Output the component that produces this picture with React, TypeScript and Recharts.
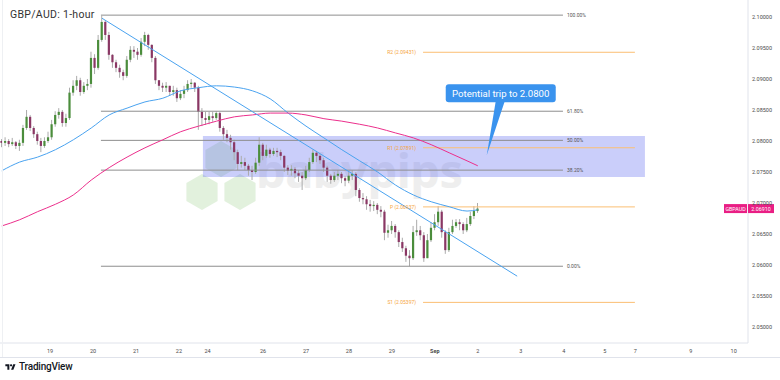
import React from "react";
import {
  ComposedChart,
  Bar,
  Line,
  XAxis,
  YAxis,
  ReferenceLine,
  ReferenceArea,
  ReferenceDot,
} from "recharts";

// 2-hour candles (price units)
const firstOpen = 2.08;
const closes = [
  2.0797, 2.08, 2.0795, 2.0798, 2.0792, 2.0797, 2.0821, 2.0839, 2.0821, 2.0811,
  2.08, 2.0792, 2.08, 2.0806, 2.0827, 2.0842, 2.0847, 2.0829, 2.0837, 2.0878,
  2.0889, 2.0898, 2.0879, 2.0889, 2.0892, 2.0934, 2.0918, 2.0963, 2.0992, 2.0971,
  2.0939, 2.0927, 2.0918, 2.0911, 2.0905, 2.0931, 2.0947, 2.0944, 2.0939, 2.096,
  2.0971, 2.0955, 2.0934, 2.0898, 2.0889, 2.0886, 2.0889, 2.0879, 2.0882, 2.0869,
  2.0876, 2.0882, 2.0892, 2.0894, 2.0886, 2.0847, 2.0837, 2.0834, 2.084, 2.0837,
  2.0845, 2.0821, 2.0811, 2.0805, 2.0798, 2.0782, 2.0763, 2.0766, 2.076, 2.0753,
  2.075, 2.0765, 2.0794, 2.0776, 2.0786, 2.0779, 2.0784, 2.0782, 2.0776, 2.0757,
  2.0752, 2.0755, 2.0748, 2.0744, 2.074, 2.0753, 2.0766, 2.0781, 2.0776, 2.0769,
  2.0757, 2.0744, 2.0737, 2.0744, 2.0747, 2.074, 2.0736, 2.0744, 2.0747, 2.0721,
  2.0708, 2.0706, 2.0698, 2.0695, 2.0697, 2.0689, 2.0686, 2.0652, 2.0656, 2.0663,
  2.0653, 2.0637, 2.0627, 2.0615, 2.0611, 2.0653, 2.0656, 2.0648, 2.0611, 2.064,
  2.066, 2.0669, 2.0686, 2.0653, 2.0624, 2.0653, 2.0663, 2.0669, 2.0666, 2.0656,
  2.0666, 2.0679, 2.0687, 2.0691,
];
const highs = [
  2.0803, 2.0806, 2.0803, 2.0805, 2.08, 2.0802, 2.0826, 2.085, 2.0842, 2.0824,
  2.0815, 2.0805, 2.0806, 2.0815, 2.0834, 2.0848, 2.0853, 2.085, 2.0844, 2.0886,
  2.0898, 2.0905, 2.0902, 2.0895, 2.09, 2.0944, 2.094, 2.0971, 2.1002, 2.0995,
  2.0976, 2.094, 2.0931, 2.0923, 2.0915, 2.0937, 2.0953, 2.0953, 2.095, 2.0966,
  2.0976, 2.0973, 2.0956, 2.0937, 2.0898, 2.0894, 2.0895, 2.0889, 2.0889, 2.0886,
  2.0882, 2.0889, 2.0898, 2.09, 2.0895, 2.0889, 2.0853, 2.0847, 2.0847, 2.0847,
  2.0848, 2.0847, 2.0824, 2.0818, 2.081, 2.0802, 2.0786, 2.0776, 2.0773, 2.0763,
  2.076, 2.0773, 2.0806, 2.0797, 2.0794, 2.0789, 2.0789, 2.0789, 2.0786, 2.0777,
  2.0761, 2.0761, 2.0758, 2.0753, 2.075, 2.076, 2.0773, 2.0786, 2.0784, 2.0779,
  2.0773, 2.076, 2.0747, 2.075, 2.0753, 2.075, 2.0744, 2.075, 2.0753, 2.075,
  2.0724, 2.0716, 2.0711, 2.0705, 2.0703, 2.07, 2.0695, 2.0689, 2.0665, 2.0671,
  2.0666, 2.0656, 2.0644, 2.0631, 2.0624, 2.0663, 2.0673, 2.0663, 2.0653, 2.065,
  2.0669, 2.0682, 2.0695, 2.0689, 2.0656, 2.066, 2.0673, 2.0674, 2.0674, 2.0669,
  2.0676, 2.0686, 2.0695, 2.07,
];
const lows = [
  2.079, 2.0792, 2.079, 2.0792, 2.0787, 2.0784, 2.0792, 2.0818, 2.0816, 2.0805,
  2.0794, 2.0782, 2.0789, 2.0797, 2.0802, 2.0823, 2.0836, 2.0823, 2.0823, 2.0834,
  2.0873, 2.0882, 2.0873, 2.0876, 2.0882, 2.0886, 2.0908, 2.0915, 2.096, 2.0963,
  2.0931, 2.0918, 2.0911, 2.0902, 2.0898, 2.0902, 2.0927, 2.0934, 2.0931, 2.0936,
  2.0953, 2.0947, 2.0927, 2.0892, 2.0882, 2.0879, 2.0879, 2.0873, 2.0873, 2.0863,
  2.0866, 2.0869, 2.0879, 2.0886, 2.0879, 2.0818, 2.0824, 2.0826, 2.0827, 2.0831,
  2.0834, 2.0815, 2.0802, 2.0798, 2.0786, 2.0769, 2.0753, 2.0757, 2.0753, 2.0744,
  2.0737, 2.0747, 2.076, 2.0769, 2.0773, 2.0773, 2.0776, 2.0774, 2.0769, 2.075,
  2.0745, 2.0744, 2.074, 2.0734, 2.0721, 2.0737, 2.075, 2.0763, 2.0766, 2.0763,
  2.075, 2.0734, 2.0731, 2.0734, 2.0737, 2.0732, 2.0727, 2.0732, 2.0737, 2.0711,
  2.0702, 2.0698, 2.0689, 2.0686, 2.0687, 2.0682, 2.0677, 2.064, 2.0644, 2.065,
  2.0644, 2.0629, 2.0621, 2.0605, 2.0598, 2.0608, 2.0647, 2.064, 2.0605, 2.0611,
  2.0637, 2.0656, 2.0663, 2.0644, 2.0618, 2.0621, 2.065, 2.066, 2.0656, 2.065,
  2.0653, 2.0663, 2.0674, 2.0684,
];

// moving averages, read at every 5th candle
const maIdx = [
  0, 5, 10, 15, 20, 25, 30, 35, 40, 45, 50, 55, 60, 65, 70, 75, 80, 85, 90, 95,
  100, 105, 110, 115, 120, 125, 130, 133,
];
const ma100 = [
  2.0752, 2.0766, 2.0774, 2.0786, 2.0802, 2.0821, 2.0842, 2.0853, 2.0863, 2.0869,
  2.0881, 2.0886, 2.0889, 2.0887, 2.0881, 2.0868, 2.0845, 2.0824, 2.0805, 2.0786,
  2.0768, 2.075, 2.0729, 2.0713, 2.0702, 2.0694, 2.0687, 2.0689,
];
const ma200 = [
  2.0663, 2.0673, 2.0686, 2.0698, 2.0713, 2.0737, 2.0757, 2.0774, 2.0789, 2.0802,
  2.0815, 2.0824, 2.0832, 2.0839, 2.0842, 2.0845, 2.0845, 2.0842, 2.0836, 2.0832,
  2.0827, 2.0821, 2.0813, 2.0805, 2.0794, 2.0781, 2.0768, 2.076,
];

// x axis (hours from the left edge)
const tickHours = [28, 52, 76, 100, 116, 147, 171, 195, 219, 243, 267, 291, 315, 338, 355, 386, 410];
const tickLabels = ["19", "20", "21", "22", "24", "26", "27", "28", "29", "Sep", "2", "3", "4", "5", "7", "9", "10"];
const priceTicks = [2.05, 2.055, 2.06, 2.065, 2.07, 2.075, 2.08, 2.085, 2.09, 2.095, 2.1];

const fibLevels = [2.1003, 2.0848, 2.0801, 2.0753, 2.0598];
const fibLabels = ["100.00%", "61.80%", "50.00%", "38.20%", "0.00%"];
const pivotLevels = [2.09431, 2.07891, 2.06937, 2.05397];
const pivotLabels = ["R2 (2.09431)", "R1 (2.07891)", "P (2.06937)", "S1 (2.05397)"];
const lastPrice = 2.0691;

const FONT = "Roboto, 'Noto Sans', sans-serif";

const data = closes.map((c, i) => ({
  hour: 2 * i + 1,
  open: i === 0 ? firstOpen : closes[i - 1],
  close: c,
  high: highs[i],
  low: lows[i],
  range: [lows[i], highs[i]],
}));

const maData = maIdx.map((i, k) => ({ hour: 2 * i + 1, ma100: ma100[k], ma200: ma200[k] }));

function Candle(props: any) {
  const { x, y, width, height, payload } = props;
  if (x == null || y == null) return null;
  const top = Math.min(y, y + height);
  const h = Math.abs(height);
  const { open, close, high, low } = payload;
  const span = high - low || 1e-9;
  const py = (v: number) => top + ((high - v) / span) * h;
  const cx = x + width / 2;
  const up = close >= open;
  const b1 = py(Math.max(open, close));
  const b2 = py(Math.min(open, close));
  return (
    <g>
      <line x1={cx} x2={cx} y1={top} y2={top + h} stroke="#ababab" strokeWidth={1} />
      <rect
        x={cx - 1.1}
        y={b1}
        width={2.2}
        height={Math.max(b2 - b1, 0.8)}
        fill={up ? "#4b8d3c" : "#8a3764"}
      />
    </g>
  );
}

function XTick(p: any) {
  const i = tickHours.indexOf(p.payload.value);
  const lbl = tickLabels[i] ?? "";
  return (
    <text x={p.x} y={p.y + 10} textAnchor="middle" fontSize={5.5} fill="#4a4a4a"
      fontFamily={FONT} fontWeight={lbl === "Sep" ? 700 : 400}>
      {lbl}
    </text>
  );
}

function YTick(p: any) {
  return (
    <text x={p.x + 4} y={p.y + 2} fontSize={5.5} fill="#4a4a4a" fontFamily={FONT}>
      {Number(p.payload.value).toFixed(5)}
    </text>
  );
}

const fibLabel = (text: string) => (p: any) => (
  <text x={p.cx + 4} y={p.cy + 2} fontSize={5} fill="#555" fontFamily={FONT}>{text}</text>
);

const pivotLabel = (text: string) => (p: any) => (
  <text x={p.cx - 7} y={p.cy + 2} fontSize={5} fill="#f5a540" textAnchor="end" fontFamily={FONT}>{text}</text>
);

function Callout(p: any) {
  const { cx, cy } = p;
  const c = "#3a93ee";
  return (
    <g>
      <path d={`M${cx},${cy} L${cx + 9},${cy - 54} L${cx + 18},${cy - 54} Z`} fill={c} />
      <rect x={cx - 41} y={cy - 71} width={110} height={18} rx={3} fill={c} />
      <text x={cx + 14} y={cy - 58.5} textAnchor="middle" fontSize={9.6} fill="#fff" fontFamily={FONT}>
        Potential trip to 2.0800
      </text>
    </g>
  );
}

function PriceTag(p: any) {
  const { cx, cy } = p;
  const c = "#e91e84";
  return (
    <g fontFamily={FONT} fontSize={5.3} fill="#fff">
      <rect x={cx - 24} y={cy - 4.5} width={23} height={9} fill={c} />
      <text x={cx - 12.5} y={cy + 2} textAnchor="middle">GBPAUD</text>
      <rect x={cx} y={cy - 4.5} width={26} height={9} fill={c} />
      <text x={cx + 13} y={cy + 2} textAnchor="middle">{lastPrice.toFixed(5)}</text>
    </g>
  );
}

function Watermark() {
  const hex = (x: number, y: number, r: number) => {
    const pts = [0, 1, 2, 3, 4, 5]
      .map((k) => {
        const a = (Math.PI / 3) * k + Math.PI / 6;
        return `${x + r * Math.cos(a)},${y + r * Math.sin(a)}`;
      })
      .join(" ");
    return <polygon points={pts} />;
  };
  return (
    <svg width={780} height={380} style={{ position: "absolute", left: 0, top: 0 }}>
      <g fill="#cfe8c8" opacity={0.6}>
        {hex(202, 192, 18)}
        {hex(240, 192, 18)}
        {hex(221, 159, 18)}
      </g>
      <text x={256} y={188} fontSize={47} fontWeight={700} fill="#eeeeee" fontFamily="'Noto Sans', sans-serif"
        letterSpacing={-0.5}>
        babypips
      </text>
    </svg>
  );
}

export default function App() {
  return (
    <div style={{ position: "fixed", left: 0, top: 0, width: 780, height: 380, background: "#fff", overflow: "hidden", fontFamily: FONT }}>
      <Watermark />
      <div style={{ position: "absolute", left: 0, top: 0 }}>
        <ComposedChart width={780} height={357} data={data} margin={{ top: 0, right: 0, bottom: 0, left: 0 }}>
          <XAxis
            dataKey="hour"
            type="number"
            domain={[0, 418]}
            ticks={tickHours}
            interval={0}
            tick={<XTick />}
            tickLine={false}
            tickSize={0}
            tickMargin={0}
            height={14}
            axisLine={{ stroke: "#e0e3eb" }}
            allowDataOverflow
          />
          <YAxis
            orientation="right"
            domain={[2.04742, 2.10274]}
            ticks={priceTicks}
            interval={0}
            tick={<YTick />}
            tickLine={false}
            tickSize={0}
            tickMargin={0}
            width={32}
            axisLine={{ stroke: "#e0e3eb" }}
            allowDataOverflow
          />
          {fibLevels.map((v, i) => (
            <ReferenceLine key={"f" + i} segment={[{ x: 56.4, y: v }, { x: 314.6, y: v }]} stroke="#8e8e8e" strokeWidth={1} />
          ))}
          {pivotLevels.map((v, i) => (
            <ReferenceLine key={"p" + i} segment={[{ x: 236.4, y: v }, { x: 354.8, y: v }]} stroke="#fbbf73" strokeWidth={1} />
          ))}
          <Bar dataKey="range" barSize={3} shape={<Candle />} isAnimationActive={false} />
          <Line data={maData} dataKey="ma100" type="monotone" stroke="#4aa3f0" strokeWidth={1} dot={false} activeDot={false} isAnimationActive={false} />
          <Line data={maData} dataKey="ma200" type="monotone" stroke="#ec2f8c" strokeWidth={1} dot={false} activeDot={false} isAnimationActive={false} />
          <ReferenceLine segment={[{ x: 57, y: 2.0998 }, { x: 289, y: 2.0582 }]} stroke="#4aa3f0" strokeWidth={1} />
          <ReferenceArea x1={113.4} x2={360.4} y1={2.0742} y2={2.0808} fill="#4e5cf0" fillOpacity={0.3} stroke="none" />
          {fibLevels.map((v, i) => (
            <ReferenceDot key={"fl" + i} x={314.6} y={v} shape={fibLabel(fibLabels[i])} ifOverflow="visible" />
          ))}
          {pivotLevels.map((v, i) => (
            <ReferenceDot key={"pl" + i} x={236.4} y={v} shape={pivotLabel(pivotLabels[i])} ifOverflow="visible" />
          ))}
          <ReferenceDot x={272} y={2.0777} shape={<Callout />} ifOverflow="visible" />
          <ReferenceDot x={418} y={lastPrice} shape={<PriceTag />} ifOverflow="visible" />
        </ComposedChart>
      </div>
      <div style={{ position: "absolute", left: 2, top: 0, width: 1, height: 357, background: "#eef0f3" }} />
      <div style={{ position: "absolute", left: 0, top: 357, width: 780, height: 1, background: "#e0e3eb" }} />
      <div style={{ position: "absolute", left: 10, top: 8, fontSize: 10.5, color: "#333", letterSpacing: 0.3 }}>
        GBP/AUD: 1-hour
      </div>
      <div style={{ position: "absolute", left: 5, top: 361, display: "flex", alignItems: "center", gap: 3 }}>
        <svg width={11} height={8} viewBox="0 0 36 28">
          <path d="M14 24H7V11H0V4h14v20zM28 24h-8l7.5-20h8L28 24z" fill="#131722" />
          <circle cx="20" cy="8" r="4" fill="#131722" />
        </svg>
        <span style={{ fontSize: 10, fontWeight: 500, color: "#131722", letterSpacing: -0.2 }}>TradingView</span>
      </div>
    </div>
  );
}
